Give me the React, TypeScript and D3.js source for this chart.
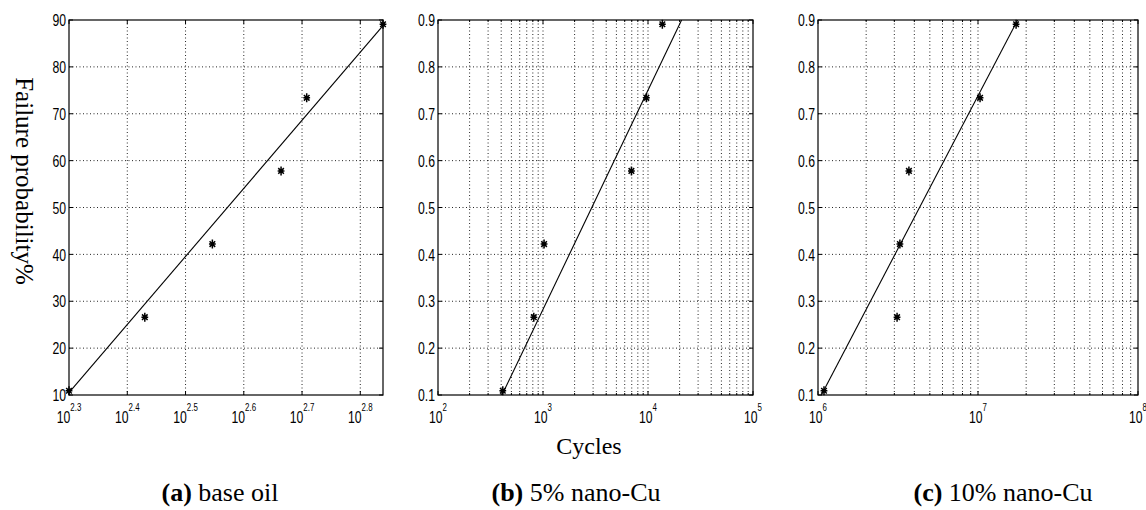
import React from 'react';
import * as d3 from 'd3';

const width = 1146;
const height = 510;

// median ranks of the six specimens
const probPercent = [10.9, 26.6, 42.2, 57.8, 73.4, 89.1];
const probFraction = [0.109, 0.266, 0.422, 0.578, 0.734, 0.891];

const cyclesA = [199.5, 269.2, 351.6, 461.3, 510.5, 690.2];
const cyclesB = [414, 817, 1024, 6950, 9650, 13700];
const cyclesC = [1.09e6, 3.12e6, 3.25e6, 3.7e6, 1.03e7, 1.73e7];

// fitted lines, [cycles, probability]
const fitA = [[199.5, 10.5], [690.2, 88.8]];
const fitB = [[407, 0.1], [20900, 0.9]];
const fitC = [[1.05e6, 0.1], [1.77e7, 0.9]];

const yTicksA = [10, 20, 30, 40, 50, 60, 70, 80, 90];
const yTicksBC = [0.1, 0.2, 0.3, 0.4, 0.5, 0.6, 0.7, 0.8, 0.9];

const xExpA = ['2.3', '2.4', '2.5', '2.6', '2.7', '2.8'];
const xExpB = ['2', '3', '4', '5'];
const xExpC = ['6', '7', '8'];

const captions = [
  { tag: '(a)', text: ' base oil' },
  { tag: '(b)', text: ' 5% nano-Cu' },
  { tag: '(c)', text: ' 10% nano-Cu' },
];

const top = 20;
const bottom = 395;
const tickFont = '"Liberation Sans", Arial, sans-serif';
const serif = '"Liberation Serif", "Times New Roman", serif';

const starPath = 'M0,-4.5V4.5M-3.4,0H3.4M-2.8,-2.8L2.8,2.8M-2.8,2.8L2.8,-2.8';

function Panel({ left, right, xDomain, yDomain, yTicks, yFmt, xExps, minor, cycles, probs, fit }) {
  const x = d3.scaleLog().domain(xDomain).range([left, right]);
  const y = d3.scaleLinear().domain(yDomain).range([bottom, top]);
  const majors = xExps.map(e => Math.pow(10, +e));
  const minors = minor ? x.ticks().filter(t => !majors.some(m => Math.abs(m - t) / m < 1e-6)) : [];
  const line = d3.line().x(d => x(d[0])).y(d => y(d[1]));
  const grid = { stroke: '#000', strokeWidth: 1, strokeDasharray: '1,2.5', opacity: 0.85 };

  return (
    <g>
      <defs>
        <clipPath id={`clip${left}`}>
          <rect x={left} y={top} width={right - left} height={bottom - top} />
        </clipPath>
      </defs>
      {/* grid */}
      {[...majors, ...minors].filter(t => x(t) > left + 1 && x(t) < right - 1).map((t, i) => (
        <line key={'gx' + i} x1={x(t)} x2={x(t)} y1={top} y2={bottom} {...grid} />
      ))}
      {yTicks.filter(t => y(t) > top + 1 && y(t) < bottom - 1).map((t, i) => (
        <line key={'gy' + i} x1={left} x2={right} y1={y(t)} y2={y(t)} {...grid} />
      ))}
      {/* inner ticks */}
      {majors.map((t, i) => (
        <g key={'tx' + i}>
          <line x1={x(t)} x2={x(t)} y1={bottom} y2={bottom - 4} stroke="#000" />
          <line x1={x(t)} x2={x(t)} y1={top} y2={top + 4} stroke="#000" />
        </g>
      ))}
      {minors.map((t, i) => (
        <g key={'mx' + i}>
          <line x1={x(t)} x2={x(t)} y1={bottom} y2={bottom - 2} stroke="#000" />
          <line x1={x(t)} x2={x(t)} y1={top} y2={top + 2} stroke="#000" />
        </g>
      ))}
      {yTicks.map((t, i) => (
        <g key={'ty' + i}>
          <line x1={left} x2={left + 4} y1={y(t)} y2={y(t)} stroke="#000" />
          <line x1={right} x2={right - 4} y1={y(t)} y2={y(t)} stroke="#000" />
        </g>
      ))}
      {/* fit line and points */}
      <path d={line(fit)} fill="none" stroke="#000" strokeWidth={1.1} clipPath={`url(#clip${left})`} />
      {cycles.map((c, i) => (
        <path key={'p' + i} d={starPath} transform={`translate(${x(c)},${y(probs[i])})`}
          stroke="#000" strokeWidth={1.5} fill="none" />
      ))}
      <rect x={left} y={top} width={right - left} height={bottom - top} fill="none" stroke="#000" strokeWidth={1.2} />
      {/* tick labels, condensed like the original narrow font */}
      {yTicks.map((t, i) => (
        <text key={'ly' + i} transform={`translate(${left - 3},${y(t)}) scale(0.72,1)`} dy="0.36em" textAnchor="end"
          fontFamily={tickFont} fontSize={17}>{yFmt(t)}</text>
      ))}
      {majors.map((t, i) => (
        <text key={'lx' + i} transform={`translate(${x(t)},423) scale(0.72,1)`} textAnchor="middle"
          fontFamily={tickFont} fontSize={17}>
          <tspan>10</tspan>
          <tspan dy={-12} fontSize={11}>{xExps[i]}</tspan>
        </text>
      ))}
    </g>
  );
}

export default function App() {
  const panels = [
    { left: 69, right: 383, xDomain: [199.5, 690.2], yDomain: [10, 90], yTicks: yTicksA, yFmt: d => String(d),
      xExps: xExpA, minor: false, cycles: cyclesA, probs: probPercent, fit: fitA },
    { left: 438, right: 753, xDomain: [100, 1e5], yDomain: [0.1, 0.9], yTicks: yTicksBC, yFmt: d3.format('.1f'),
      xExps: xExpB, minor: true, cycles: cyclesB, probs: probFraction, fit: fitB },
    { left: 818, right: 1138, xDomain: [1e6, 1e8], yDomain: [0.1, 0.9], yTicks: yTicksBC, yFmt: d3.format('.1f'),
      xExps: xExpC, minor: true, cycles: cyclesC, probs: probFraction, fit: fitC },
  ];
  const captionX = [220, 576, 1003];

  return (
    <svg width={width} height={height} style={{ position: 'absolute', left: 0, top: 0, background: '#fff' }}>
      {panels.map((p, i) => <Panel key={i} {...p} />)}
      <text transform="translate(16,181) rotate(90)" textAnchor="middle" fontFamily={serif} fontSize={25}>
        Failure probability%
      </text>
      <text x={589} y={454} textAnchor="middle" fontFamily={serif} fontSize={24}>Cycles</text>
      {captions.map((c, i) => (
        <text key={i} x={captionX[i]} y={501} textAnchor="middle" fontFamily={serif} fontSize={26}>
          <tspan fontWeight="bold">{c.tag}</tspan>{c.text}
        </text>
      ))}
    </svg>
  );
}
